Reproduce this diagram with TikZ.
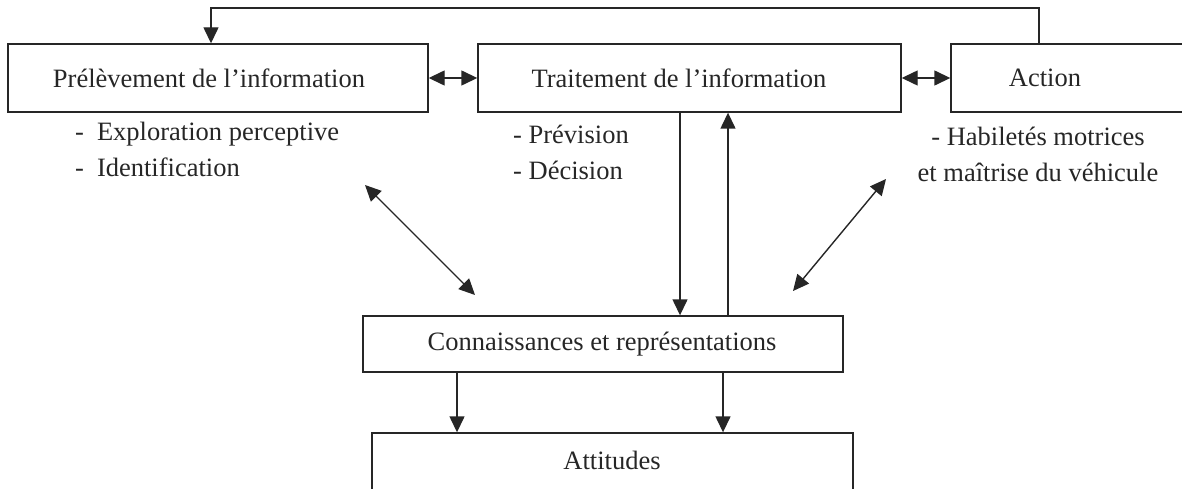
\documentclass[tikz,border=0pt]{standalone}
\usepackage{fontspec}
\setmainfont{Liberation Serif}
\usetikzlibrary{arrows.meta}
\definecolor{ink}{HTML}{262626}
\tikzset{
  box/.style={draw=ink, line width=1.4pt, rectangle, inner sep=0pt},
  lbl/.style={text=ink, inner sep=0pt, font=\fontsize{26.5}{36}\selectfont},
  tip/.style={draw=ink, line width=1.4pt, -{Triangle[length=16pt,width=15pt]}},
  dtip/.style={draw=ink, line width=1.4pt, {Triangle[length=16pt,width=15pt]}-{Triangle[length=16pt,width=15pt]}}
}
\begin{document}
\begin{tikzpicture}[x=1pt, y=-1pt]
  \useasboundingbox (0,0) rectangle (1182,489);
  \clip (0,0) rectangle (1182,489);

  % main boxes
  \node[box, minimum width=420pt, minimum height=68pt] (b1) at (218,78) {};
  \node[box, minimum width=423pt, minimum height=68pt] (b2) at (689.5,78) {};
  \node[box, minimum width=260pt, minimum height=68pt] (b3) at (1081,78) {};
  \node[box, minimum width=480pt, minimum height=56pt] (b4) at (603,344) {};
  \node[box, minimum width=481pt, minimum height=80pt] (b5) at (612.5,473) {};

  % box captions
  \node[lbl] (t1) at (209,78) {Prélèvement de l’information};
  \node[lbl] (t2) at (679,78) {Traitement de l’information};
  \node[lbl] (t3) at (1045,78) {Action};
  \node[lbl] (t4) at (602,344) {Connaissances et représentations};
  \node[lbl] (t5) at (612,460) {Attitudes};

  % item lists under the boxes
  \node[lbl, anchor=west, align=left] (l1) at (75,149)
    {-\hspace{13pt}Exploration perceptive\\-\hspace{13pt}Identification};
  \node[lbl, anchor=west, align=left] (l2) at (513,152.5)
    {- Prévision\\- Décision};
  \node[lbl, align=center] (l3) at (1038,154.5)
    {- Habiletés motrices\\et maîtrise du véhicule};

  % reference points for connectors
  \coordinate (fbR) at (1039,8);
  \coordinate (fbL) at (211,8);
  \coordinate (vdn) at (680,0);
  \coordinate (vup) at (728,0);
  \coordinate (aL) at (457,0);
  \coordinate (aR) at (723,0);
  \coordinate (dl1) at (365,185);
  \coordinate (dl2) at (475,295);
  \coordinate (dr1) at (886,179);
  \coordinate (dr2) at (793,291);

  % feedback loop from Action back to the first box
  \draw[tip] (b3.north -| fbR) -- (fbR) -- (fbL) -- (b1.north -| fbL);

  % exchanges between the top boxes
  \draw[dtip] (b1.east) -- (b2.west);
  \draw[dtip] (b2.east) -- (b3.west);

  % links with the knowledge box
  \draw[tip] (b2.south -| vdn) -- (b4.north -| vdn);
  \draw[tip] (b4.north -| vup) -- (b2.south -| vup);
  \draw[dtip] (dl1) -- (dl2);
  \draw[dtip] (dr1) -- (dr2);

  % knowledge to attitudes
  \draw[tip] (b4.south -| aL) -- (b5.north -| aL);
  \draw[tip] (b4.south -| aR) -- (b5.north -| aR);
\end{tikzpicture}
\end{document}
